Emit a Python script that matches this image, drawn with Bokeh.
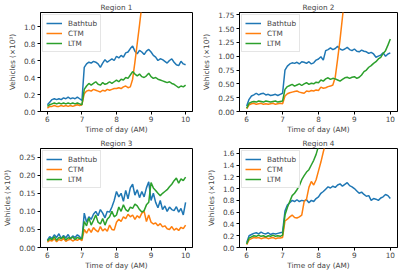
import numpy as np
from bokeh.plotting import figure
from bokeh.layouts import gridplot
from bokeh.models import FixedTicker, PrintfTickFormatter, Range1d, Legend, LegendItem
from bokeh.embed import file_html
from bokeh.resources import INLINE

# time grid: every 4 minutes from 6:00 to 10:00 (hours)
time_h = [6 + i / 15 for i in range(61)]
series_names = ["Bathtub", "CTM", "LTM"]
colors = ["#1f77b4", "#ff7f0e", "#2ca02c"]
x_ticks = [6, 7, 8, 9, 10]

# ---------------- Region 1 ----------------
r1_bathtub = [0.08, 0.11, 0.14, 0.15, 0.14, 0.15, 0.14, 0.16, 0.15, 0.17, 0.15, 0.16, 0.15, 0.17, 0.15, 0.13,
              0.52, 0.56, 0.58, 0.57, 0.59, 0.58, 0.56, 0.52, 0.57, 0.61, 0.58, 0.60, 0.62, 0.60,
              0.65, 0.63, 0.66, 0.64, 0.69, 0.70, 0.74, 0.77, 0.71, 0.68, 0.72, 0.70, 0.67, 0.71, 0.73,
              0.70, 0.66, 0.64, 0.60, 0.62, 0.61, 0.59, 0.57, 0.60, 0.62, 0.58, 0.55, 0.54, 0.59, 0.56, 0.55]
r1_ctm = [0.04, 0.06, 0.06, 0.07, 0.06, 0.06, 0.07, 0.06, 0.07, 0.06, 0.07, 0.06, 0.07, 0.08, 0.07, 0.08,
          0.21, 0.24, 0.25, 0.24, 0.26, 0.25, 0.24, 0.23, 0.25, 0.24, 0.26, 0.25, 0.26, 0.27,
          0.27, 0.28, 0.27, 0.29, 0.30, 0.28, 0.29, 0.38, 0.58, 0.80, 1.02, 1.25, 1.50, 1.75]
r1_ltm = [0.06, 0.08, 0.09, 0.10, 0.09, 0.10, 0.09, 0.10, 0.09, 0.10, 0.09, 0.10, 0.09, 0.10, 0.09, 0.08,
          0.26, 0.30, 0.33, 0.31, 0.33, 0.35, 0.32, 0.31, 0.34, 0.32, 0.33, 0.35, 0.33, 0.35,
          0.37, 0.35, 0.38, 0.37, 0.40, 0.39, 0.43, 0.47, 0.44, 0.42, 0.44, 0.41, 0.40, 0.42, 0.45,
          0.41, 0.39, 0.40, 0.38, 0.37, 0.36, 0.35, 0.34, 0.35, 0.33, 0.32, 0.30, 0.28, 0.30, 0.29, 0.31]

# ---------------- Region 2 ----------------
r2_bathtub = [0.10, 0.22, 0.28, 0.30, 0.33, 0.30, 0.32, 0.33, 0.30, 0.31, 0.29, 0.30, 0.31, 0.29, 0.31, 0.33,
              0.75, 0.82, 0.86, 0.88, 0.87, 0.89, 0.86, 0.90, 0.89, 0.87, 0.90, 0.86, 0.88, 0.93,
              0.95, 0.99, 0.93, 1.10, 1.12, 1.15, 1.12, 1.14, 1.18, 1.13, 1.11, 1.13, 1.16, 1.12, 1.10,
              1.13, 1.09, 1.08, 1.11, 1.09, 1.08, 1.05, 1.07, 1.04, 0.98, 1.00, 1.02, 1.06, 1.00, 1.04, 1.06]
r2_ctm = [0.05, 0.12, 0.14, 0.15, 0.13, 0.14, 0.15, 0.13, 0.14, 0.13, 0.14, 0.15, 0.13, 0.14, 0.15, 0.14,
          0.28, 0.32, 0.34, 0.35, 0.36, 0.37, 0.35, 0.34, 0.33, 0.37, 0.36, 0.38, 0.37, 0.39,
          0.38, 0.44, 0.42, 0.43, 0.45, 0.46, 0.48, 0.62, 0.95, 1.30, 1.70, 2.10, 2.50]
r2_ltm = [0.06, 0.15, 0.17, 0.18, 0.17, 0.19, 0.18, 0.17, 0.19, 0.18, 0.17, 0.18, 0.19, 0.17, 0.18, 0.19,
          0.40, 0.45, 0.47, 0.49, 0.46, 0.48, 0.50, 0.47, 0.50, 0.52, 0.49, 0.51, 0.50, 0.53,
          0.52, 0.57, 0.55, 0.59, 0.61, 0.58, 0.60, 0.59, 0.57, 0.55, 0.58, 0.61, 0.62, 0.60, 0.62,
          0.63, 0.60, 0.62, 0.66, 0.72, 0.75, 0.80, 0.83, 0.87, 0.90, 0.95, 0.98, 1.05, 1.10, 1.20, 1.31]

# ---------------- Region 3 ----------------
r3_bathtub = [0.020, 0.030, 0.025, 0.035, 0.028, 0.038, 0.025, 0.033, 0.027, 0.036, 0.024, 0.032, 0.028, 0.035, 0.030, 0.022,
              0.095, 0.070, 0.085, 0.078, 0.092, 0.100, 0.088, 0.105, 0.095, 0.082, 0.100, 0.098, 0.112, 0.130,
              0.155, 0.140, 0.150, 0.128, 0.158, 0.135, 0.165, 0.175, 0.145, 0.160, 0.138, 0.155, 0.140, 0.165, 0.182,
              0.130, 0.150, 0.125, 0.110, 0.130, 0.105, 0.115, 0.100, 0.112, 0.105, 0.102, 0.113, 0.098, 0.108, 0.090, 0.125]
r3_ctm = [0.015, 0.020, 0.018, 0.024, 0.016, 0.022, 0.019, 0.025, 0.017, 0.021, 0.023, 0.018, 0.022, 0.020, 0.024, 0.019,
          0.050, 0.040, 0.052, 0.042, 0.055, 0.048, 0.043, 0.058, 0.046, 0.052, 0.045, 0.062, 0.050, 0.048,
          0.070, 0.078, 0.072, 0.085, 0.080, 0.092, 0.085, 0.090, 0.078, 0.088, 0.082, 0.095, 0.100, 0.072, 0.090,
          0.070, 0.065, 0.068, 0.060, 0.066, 0.057, 0.060, 0.052, 0.050, 0.058, 0.048, 0.053, 0.047, 0.056, 0.052, 0.062]
r3_ltm = [0.018, 0.025, 0.022, 0.030, 0.020, 0.028, 0.024, 0.030, 0.021, 0.027, 0.025, 0.029, 0.022, 0.028, 0.025, 0.024,
          0.072, 0.060, 0.082, 0.062, 0.075, 0.090, 0.070, 0.065, 0.080, 0.062, 0.078, 0.085, 0.100, 0.085,
          0.090, 0.112, 0.100, 0.118, 0.105, 0.100, 0.112, 0.108, 0.120, 0.115, 0.105, 0.098, 0.102, 0.118, 0.125,
          0.180, 0.165, 0.158, 0.150, 0.143, 0.150, 0.155, 0.160, 0.168, 0.175, 0.185, 0.192, 0.178, 0.190, 0.185, 0.195]

# ---------------- Region 4 ----------------
r4_bathtub = [0.08, 0.20, 0.22, 0.24, 0.25, 0.23, 0.26, 0.24, 0.23, 0.25, 0.22, 0.24, 0.23, 0.24, 0.25, 0.26,
              0.62, 0.72, 0.76, 0.80, 0.78, 0.81, 0.78, 0.80, 0.79, 0.81, 0.76, 0.80, 0.78, 0.83,
              0.86, 0.92, 0.95, 0.99, 1.03, 1.01, 1.04, 1.02, 1.06, 1.08, 1.04, 1.07, 1.10, 1.05, 1.03,
              1.00, 0.96, 0.92, 0.94, 0.90, 0.87, 0.88, 0.80, 0.83, 0.82, 0.80, 0.84, 0.86, 0.90, 0.88, 0.83]
r4_ctm = [0.05, 0.13, 0.15, 0.17, 0.16, 0.17, 0.15, 0.16, 0.17, 0.15, 0.16, 0.17, 0.15, 0.16, 0.16, 0.17,
          0.45, 0.48, 0.52, 0.55, 0.51, 0.50, 0.52, 0.55, 0.78, 0.82, 1.02, 1.12, 1.06, 1.15,
          1.30, 1.45, 1.62, 1.78, 1.95]
r4_ltm = [0.06, 0.16, 0.18, 0.20, 0.19, 0.21, 0.19, 0.20, 0.18, 0.20, 0.19, 0.21, 0.19, 0.20, 0.19, 0.21,
          0.55, 0.68, 0.78, 0.88, 0.92, 0.98, 1.05, 1.15, 1.22, 1.28, 1.32, 1.40, 1.48, 1.58,
          1.72, 1.85]

regions = [
    ("Region 1", [r1_bathtub, r1_ctm, r1_ltm], 1.165, [0.0, 0.2, 0.4, 0.6, 0.8, 1.0], "%.1f"),
    ("Region 2", [r2_bathtub, r2_ctm, r2_ltm], 1.79, [0.0, 0.25, 0.5, 0.75, 1.0, 1.25, 1.5, 1.75], "%.2f"),
    ("Region 3", [r3_bathtub, r3_ctm, r3_ltm], 0.274, [0.0, 0.05, 0.1, 0.15, 0.2, 0.25], "%.2f"),
    ("Region 4", [r4_bathtub, r4_ctm, r4_ltm], 1.68, [0.0, 0.2, 0.4, 0.6, 0.8, 1.0, 1.2, 1.4, 1.6], "%.1f"),
]

FONT = "DejaVu Sans"
FS = "7.3px"


def make_panel(idx, title, data, ymax, yticks, fmt):
    left = idx % 2 == 0
    width = 199 if left else 200
    height = 136
    p = figure(width=width, height=height, output_backend="svg", toolbar_location=None,
               x_range=Range1d(5.8, 10.2), y_range=Range1d(0, ymax),
               min_border_left=32 if left else 38, min_border_right=7 if left else 2,
               min_border_top=0, min_border_bottom=0)
    p.title.text = title
    p.title.align = "center"
    p.title.text_font = FONT
    p.title.text_font_size = FS
    p.title.text_font_style = "normal"
    p.title.standoff = 1
    p.title.offset = 0
    p.xgrid.visible = False
    p.ygrid.visible = False
    p.outline_line_color = "black"
    p.outline_line_width = 1
    p.outline_line_alpha = 1
    p.background_fill_color = "white"
    p.border_fill_color = "white"

    items = []
    for name, color, ys in zip(series_names, colors, data):
        r = p.line(time_h[:len(ys)], ys, line_color=color, line_width=1.5)
        items.append(LegendItem(label=name, renderers=[r]))

    legend = Legend(items=items, location="top_left")
    legend.label_text_font = FONT
    legend.label_text_font_size = FS
    legend.border_line_color = "#cccccc"
    legend.border_line_width = 1
    legend.background_fill_alpha = 0.8
    legend.margin = 2
    legend.padding = 3
    legend.spacing = 0
    legend.glyph_width = 16
    legend.glyph_height = 10
    legend.label_height = 10
    legend.label_standoff = 6
    p.add_layout(legend)

    for ax in (p.xaxis, p.yaxis):
        ax.axis_line_color = "black"
        ax.major_tick_line_color = "black"
        ax.major_tick_out = 3
        ax.major_tick_in = 0
        ax.minor_tick_out = 0
        ax.minor_tick_in = 0
        ax.major_label_text_font = FONT
        ax.major_label_text_font_size = FS
        ax.axis_label_text_font = FONT
        ax.axis_label_text_font_size = FS
        ax.axis_label_text_font_style = "normal"
        ax.major_label_standoff = 2
    p.xaxis.major_label_standoff = 1
    p.xaxis.ticker = FixedTicker(ticks=x_ticks)
    p.xaxis.axis_label = "Time of day (AM)"
    p.xaxis.axis_label_standoff = 0
    p.yaxis.ticker = FixedTicker(ticks=yticks)
    p.yaxis.formatter = PrintfTickFormatter(format=fmt)
    p.yaxis.axis_label = "Vehicles (×10³)"
    p.yaxis.axis_label_standoff = 4
    return p


panels = [make_panel(i, *reg) for i, reg in enumerate(regions)]
grid = gridplot([[panels[0], panels[1]], [panels[2], panels[3]]], toolbar_location=None)

open("out.html", "w").write(file_html(grid, INLINE))
